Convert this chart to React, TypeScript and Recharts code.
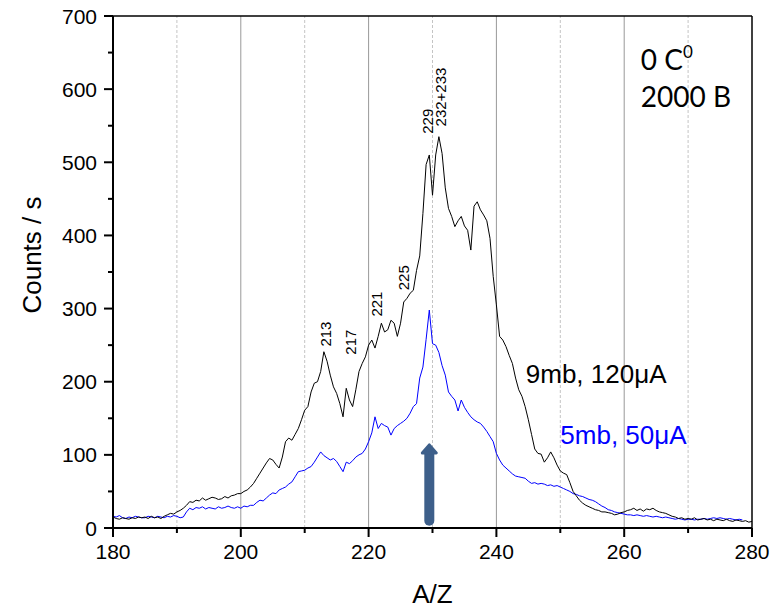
import React from 'react'
import { LineChart, Line, XAxis, YAxis, ReferenceLine, ReferenceDot } from 'recharts'

// spectra sampled every 0.5 in A/Z, starting at 180
const AZ_START = 180
const AZ_STEP = 0.5

// 9mb, 120µA
const countsHigh = [
  15, 13, 12, 14, 13, 12, 14, 13, 15, 14,
  15, 13, 16, 14, 15, 13, 16, 18, 20, 19,
  22, 24, 27, 31, 36, 35, 38, 37, 41, 38,
  40, 42, 41, 39, 40, 43, 41, 44, 45, 47,
  47, 50, 52, 56, 61, 68, 75, 82, 89, 95,
  93, 87, 82, 97, 118, 123, 120, 128, 136, 148,
  161, 166, 186, 198, 200, 214, 241, 228, 209, 193,
  184, 170, 152, 191, 175, 166, 189, 214, 225, 234,
  250, 257, 246, 262, 280, 268, 271, 284, 280, 262,
  280, 309, 314, 321, 325, 352, 372, 430, 497, 510,
  455, 510, 535, 512, 465, 437, 426, 412, 420, 426,
  413, 407, 380, 440, 446, 435, 428, 420, 396, 344,
  305, 262, 257, 248, 236, 225, 205, 189, 180, 166,
  148, 128, 108, 102, 101, 90, 96, 104, 96, 86,
  78, 75, 73, 62, 50, 44, 38, 34, 31, 29,
  27, 25, 24, 22, 22, 21, 20, 18, 19, 21,
  22, 24, 25, 27, 24, 26, 23, 26, 25, 27,
  24, 22, 21, 20, 18, 16, 15, 13, 14, 12,
  13, 12, 14, 11, 12, 13, 11, 12, 10, 12,
  11, 10, 12, 10, 9, 11, 10, 9, 10, 8,
  9,
]

// 5mb, 50µA
const countsLow = [
  16, 15, 17, 14, 13, 15, 14, 16, 15, 14,
  14, 16, 15, 14, 16, 15, 14, 16, 15, 17,
  16, 14, 15, 22, 27, 25, 28, 27, 29, 26,
  28, 27, 26, 29, 27, 28, 30, 28, 27, 29,
  27, 30, 29, 31, 31, 35, 38, 37, 41, 45,
  48, 47, 52, 54, 56, 60, 63, 70, 77, 78,
  79, 82, 84, 90, 97, 104, 99, 96, 93, 95,
  91, 84, 77, 90, 88, 92, 97, 100, 102, 108,
  118, 130, 152, 136, 143, 140, 138, 127, 136, 140,
  143, 146, 150, 157, 166, 170, 205, 220, 258, 298,
  252, 250, 240, 222, 209, 186, 180, 175, 160, 175,
  165, 158, 152, 148, 145, 143, 138, 132, 125, 118,
  102, 93, 86, 82, 78, 74, 71, 70, 69, 68,
  64, 61, 62, 60, 61, 60, 58, 59, 57, 58,
  56, 54, 52, 50, 47, 46, 44, 43, 41, 39,
  38, 36, 33, 30, 28, 25, 24, 22, 21, 20,
  19, 18, 18, 17, 18, 17, 16, 17, 16, 15,
  16, 15, 14, 15, 14, 13, 12, 13, 12, 11,
  12, 12, 11, 12, 12, 13, 12, 13, 14, 13,
  14, 13, 12, 13, 12, 11, 12, 11, null, null,
  null,
]

const xTicks = [180, 190, 200, 210, 220, 230, 240, 250, 260, 270, 280]
const yTicks = [0, 50, 100, 150, 200, 250, 300, 350, 400, 450, 500, 550, 600, 650, 700]
const solidGridX = [200, 220, 240, 260]
const dashedGridX = [190, 210, 230, 250, 270]

// isotope markers above the peaks
const peakNames = ['213', '217', '221', '225', '229', '232+233']
const peakAz = [213.2, 217.2, 221.3, 225.4, 229.2, 231.3]
const peakCounts = [248, 237, 289, 325, 539, 549]

// beam arrow at A/Z 229.5
const arrowAz = 229.5
const arrowFrom = 10
const arrowTo = 103

const data = countsHigh.map((v, i) => ({
  az: AZ_START + i * AZ_STEP,
  high: v,
  low: countsLow[i],
}))

const SANS = '"Liberation Sans", Arial, sans-serif'

function YTick({ x, y, payload }: any) {
  const major = payload.value % 100 === 0
  return (
    <g>
      <line x1={x - (major ? 9 : 5)} x2={x} y1={y} y2={y} stroke="#000" strokeWidth={2} />
      {major && (
        <text x={x - 16} y={y + 7.5} textAnchor="end" fontSize={21} fontFamily={SANS} fill="#000">
          {payload.value}
        </text>
      )}
    </g>
  )
}

function XTick({ x, y, payload }: any) {
  const major = payload.value % 20 === 0
  return (
    <g>
      <line x1={x} x2={x} y1={y} y2={y + (major ? 9 : 5)} stroke="#000" strokeWidth={2} />
      {major && (
        <text x={x} y={y + 31} textAnchor="middle" fontSize={21} fontFamily={SANS} fill="#000">
          {payload.value}
        </text>
      )}
    </g>
  )
}

const peakLabel = (name: string) => (p: any) => (
  <text
    x={p.cx}
    y={p.cy}
    transform={`rotate(-90 ${p.cx} ${p.cy})`}
    dominantBaseline="central"
    fontSize={15}
    fontFamily={SANS}
    fill="#000"
  >
    {name}
  </text>
)

const note = (text: string, color: string, size: number, family: string) => (p: any) => (
  <text x={p.cx} y={p.cy} fontSize={size} fontFamily={family} fill={color}>
    {text}
  </text>
)

const arrowHead = (p: any) => (
  <path
    d={`M ${p.cx - 7} ${p.cy + 9} L ${p.cx} ${p.cy + 1} L ${p.cx + 7} ${p.cy + 9} Z`}
    fill="#3d5f8a"
    stroke="#3d5f8a"
    strokeWidth={3}
    strokeLinejoin="round"
  />
)

const tempNote = (p: any) => (
  <text x={p.cx} y={p.cy} fontSize={28} fontFamily="Lato, sans-serif" fill="#000">
    0 C<tspan dy={-12} fontSize={17}>0</tspan>
  </text>
)

export default function App() {
  return (
    <div style={{ position: 'absolute', left: 0, top: 0, width: 782, height: 610, background: '#fff' }}>
      <LineChart width={782} height={610} data={data} margin={{ top: 16, right: 30, bottom: 24, left: 53 }}>
        {dashedGridX.map((v) => (
          <ReferenceLine key={`d${v}`} x={v} stroke="#c4c4c4" strokeDasharray="3 2" />
        ))}
        {solidGridX.map((v) => (
          <ReferenceLine key={`s${v}`} x={v} stroke="#999" />
        ))}
        <ReferenceLine y={700} stroke="#000" strokeWidth={1.5} />
        <ReferenceLine x={280} stroke="#000" strokeWidth={1.5} />
        <XAxis
          dataKey="az"
          type="number"
          domain={[180, 280]}
          ticks={xTicks}
          interval={0}
          height={58}
          tickSize={0}
          tickMargin={0}
          tickLine={false}
          axisLine={{ stroke: '#000', strokeWidth: 2 }}
          tick={<XTick />}
          label={{
            content: (p: any) => (
              <text
                x={p.viewBox.x + p.viewBox.width / 2}
                y={p.viewBox.y + 75}
                textAnchor="middle"
                fontSize={26}
                fontFamily={SANS}
                fill="#000"
              >
                A/Z
              </text>
            ),
          }}
        />
        <YAxis
          type="number"
          domain={[0, 700]}
          ticks={yTicks}
          interval={0}
          width={60}
          tickSize={0}
          tickMargin={0}
          tickLine={false}
          axisLine={{ stroke: '#000', strokeWidth: 2 }}
          tick={<YTick />}
          label={{
            content: (p: any) => (
              <text
                transform={`translate(${p.viewBox.x - 12} ${p.viewBox.y + 239}) rotate(-90)`}
                textAnchor="middle"
                fontSize={26}
                fontFamily={SANS}
                fill="#000"
              >
                Counts / s
              </text>
            ),
          }}
        />
        <Line
          type="linear"
          dataKey="low"
          stroke="#0000ff"
          strokeWidth={1}
          dot={false}
          isAnimationActive={false}
        />
        <Line
          type="linear"
          dataKey="high"
          stroke="#000"
          strokeWidth={1}
          dot={false}
          isAnimationActive={false}
        />
        <ReferenceLine
          segment={[
            { x: arrowAz, y: arrowFrom },
            { x: arrowAz, y: arrowTo },
          ]}
          stroke="#3d5f8a"
          strokeWidth={10}
          strokeLinecap="round"
        />
        <ReferenceDot x={arrowAz} y={arrowTo + 12} shape={arrowHead} />
        {peakNames.map((name, i) => (
          <ReferenceDot key={name} x={peakAz[i]} y={peakCounts[i]} shape={peakLabel(name)} />
        ))}
        <ReferenceDot x={244.6} y={198} shape={note('9mb, 120\u03bcA', '#000', 26, SANS)} />
        <ReferenceDot x={250} y={115} shape={note('5mb, 50\u03bcA', '#0000ff', 26, SANS)} />
        <ReferenceDot x={262.6} y={626} shape={tempNote} />
        <ReferenceDot x={262.6} y={576} shape={note('2000 B', '#000', 28, 'Lato, sans-serif')} />
      </LineChart>
    </div>
  )
}
